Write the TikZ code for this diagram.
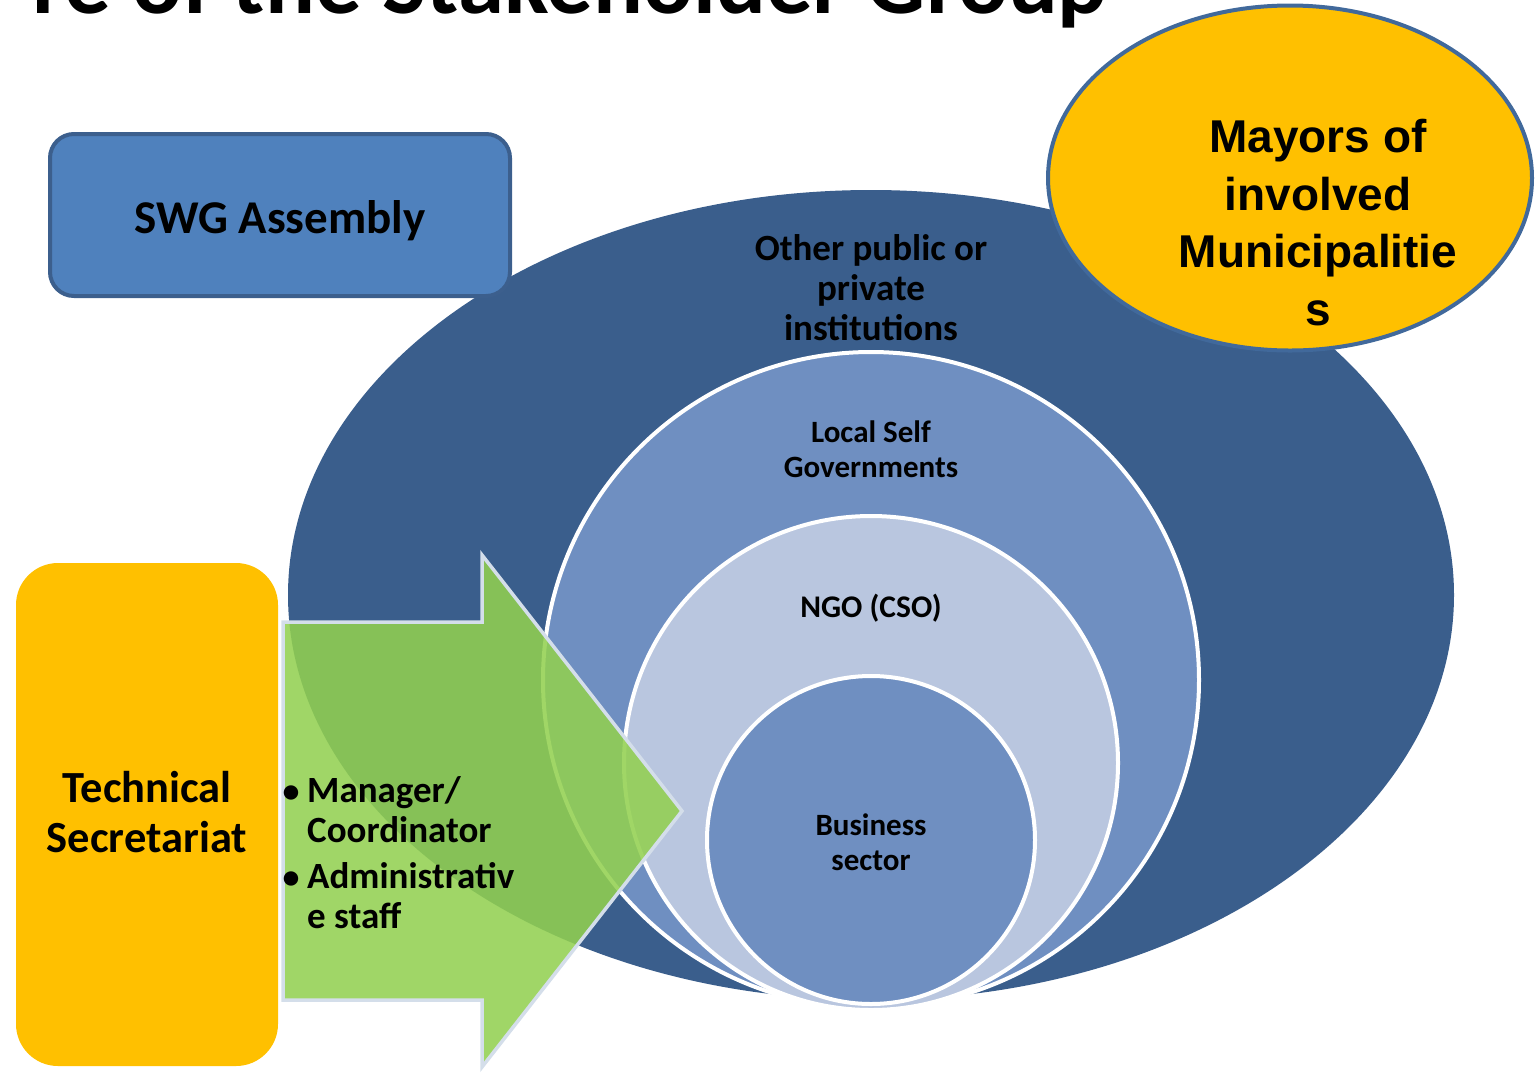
\documentclass[tikz,border=0pt]{standalone}
\usepackage{fontspec}
\setmainfont{Carlito}
\newfontfamily\arialfont{Liberation Sans}
\usetikzlibrary{shapes.geometric}
\definecolor{darkblue}{HTML}{3A5E8C}
\definecolor{midblue}{HTML}{6F8FC1}
\definecolor{lightblue}{HTML}{B9C6DF}
\definecolor{gold}{HTML}{FFC000}
\definecolor{swgblue}{HTML}{4F81BD}
\definecolor{swgborder}{HTML}{3C5F8D}
\definecolor{mayorborder}{HTML}{41699B}
\definecolor{arrowgreen}{HTML}{92D050}
\definecolor{arrowedge}{HTML}{D4DEEA}
\tikzset{
  ring/.style={circle, draw=white, line width=4pt, inner sep=0pt},
  txt/.style={inner sep=0pt, align=center, anchor=base, text=black},
  boxstyle/.style={rectangle, inner sep=0pt},
}
\begin{document}
\begin{tikzpicture}[x=1pt,y=-1pt]
\useasboundingbox (0,0) rectangle (1537,1072);
% title (cut off at the top, as in the reference)
\node[inner sep=0pt, anchor=base east, font=\fontsize{93}{100}\selectfont\bfseries] (title) at (1108,13) {re of the Stakeholder Group};
% stakeholder ellipse and circles
\node[ellipse, fill=darkblue, minimum width=1166pt, minimum height=810pt, inner sep=0pt] (outer) at (871,595) {};
\node[ring, fill=midblue, minimum size=656pt] (lsg) at (871,680) {};
\node[ring, fill=lightblue, minimum size=494pt] (ngo) at (871,763) {};
\node[ring, fill=midblue, minimum size=328pt] (bus) at (871,840) {};
% texts of circles (anchor = baseline of last line)
\node[txt, font=\fontsize{37}{40}\selectfont\bfseries] (t-other) at (871,340) {Other public or\\private\\institutions};
\node[txt, font=\fontsize{31}{35}\selectfont\bfseries] (t-lsg) at (871,477) {Local Self\\Governments};
\node[txt, font=\fontsize{31.5}{35}\selectfont\bfseries] (t-ngo) at (871,617) {NGO (CSO)};
\node[txt, font=\fontsize{31}{35}\selectfont\bfseries] (t-bus) at (871,870) {Business\\sector};
% mayors
\node[ellipse, fill=gold, draw=mayorborder, line width=4pt, minimum width=484pt, minimum height=345pt, inner sep=0pt] (mayors) at (1290,178) {};
\node[txt, font=\arialfont\fontsize{46}{57.5}\selectfont\bfseries] (t-mayors) at (1318,325) {Mayors of\\involved\\Municipalitie\\s};
% SWG assembly
\node[boxstyle, fill=swgblue, draw=swgborder, line width=4pt, rounded corners=24pt, minimum width=460pt, minimum height=162pt] (swg) at (280,215) {};
\node[txt, font=\fontsize{47}{52}\selectfont\bfseries] (t-swg) at (280,233) {SWG Assembly};
% green arrow
\draw[fill=arrowgreen, fill opacity=0.87, draw=arrowedge, line width=3.5pt, line join=miter]
  (283,622) -- (482,622) -- (482,555) -- (682,811) -- (482,1067) -- (482,1000) -- (283,1000) -- cycle;
% technical secretariat
\node[boxstyle, fill=gold, rounded corners=42pt, minimum width=262pt, minimum height=503pt] (tech) at (147,814.5) {};
\node[txt, font=\fontsize{44.5}{50}\selectfont\bfseries] (t-tech) at (147,852) {Technical\\Secretariat};
% bullets
\node[inner sep=0pt, anchor=base, font=\fontsize{34}{40}\selectfont\bfseries] (b1) at (291,802) {•};
\node[inner sep=0pt, anchor=base west, align=left, font=\fontsize{37}{40}\selectfont\bfseries] (t-b1) at (307,842) {Manager/\\Coordinator};
\node[inner sep=0pt, anchor=base, font=\fontsize{34}{40}\selectfont\bfseries] (b2) at (291,888) {•};
\node[inner sep=0pt, anchor=base west, align=left, font=\fontsize{37}{40}\selectfont\bfseries] (t-b2) at (307,928) {Administrativ\\e staff};
\end{tikzpicture}
\end{document}
